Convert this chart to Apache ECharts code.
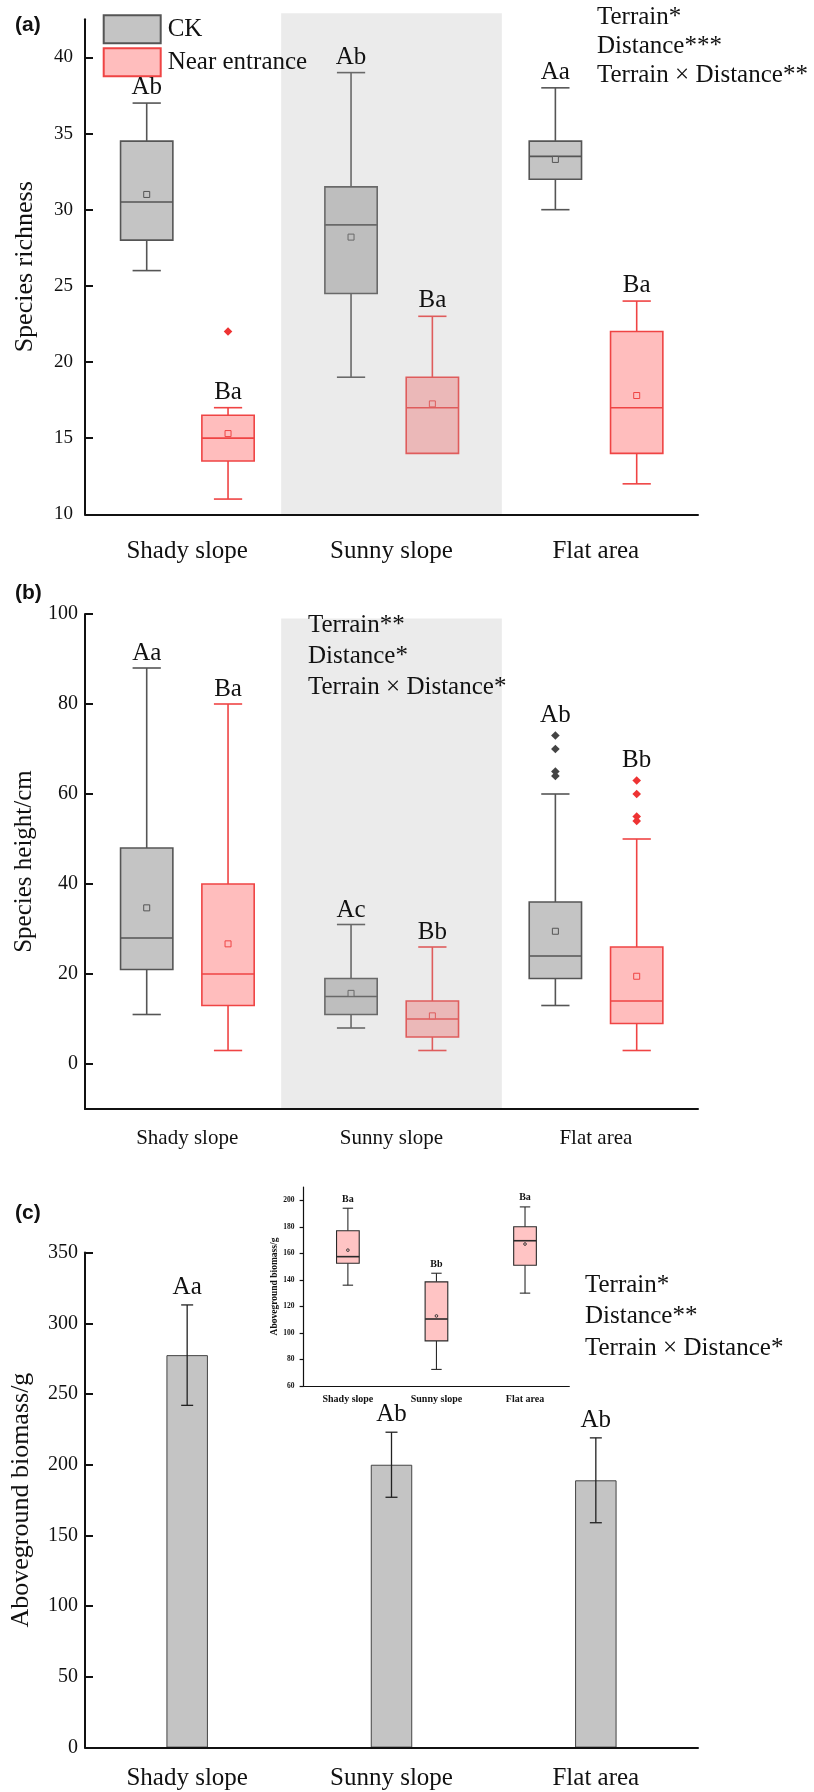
<!DOCTYPE html>
<html>
<head>
<meta charset="utf-8">
<script src="https://cdn.jsdelivr.net/npm/echarts@6.0.0/dist/echarts.min.js"></script>
<style>
  html, body { margin: 0; padding: 0; background: #fff; }
  #chart { width: 814px; height: 1792px; }
</style>
</head>
<body>
<div id="chart"></div>
<script>
// ---- data ----
const terrains = ['Shady slope', 'Sunny slope', 'Flat area'];

// Species richness, per terrain: [low, q1, median, q3, high, mean]
const richnessCK = [[26, 28, 30.5, 34.5, 37, 31], [19, 24.5, 29, 31.5, 39, 28.2], [30, 32, 33.5, 34.5, 38, 33.3]];
const richnessNE = [[11, 13.5, 15, 16.5, 17, 15.3], [14, 14, 17, 19, 23, 17.25], [12, 14, 17, 22, 24, 17.8]];
const richnessOutCK = [];
const richnessOutNE = [[0, 22]];
const richnessLettersCK = ['Ab', 'Ab', 'Aa'];
const richnessLettersNE = ['Ba', 'Ba', 'Ba'];
const richnessTicks = [10, 15, 20, 25, 30, 35, 40];
const richnessStats = ['Terrain*', 'Distance***', 'Terrain × Distance**'];

// Species height/cm, per terrain: [low, q1, median, q3, high, mean]
const heightCK = [[11, 21, 28, 48, 88, 34.7], [8, 11, 15, 19, 31, 15.7], [13, 19, 24, 36, 60, 29.5]];
const heightNE = [[3, 13, 20, 40, 80, 26.7], [3, 6, 10, 14, 26, 10.7], [3, 9, 14, 26, 50, 19.5]];
const heightOutCK = [[2, 73], [2, 70], [2, 65], [2, 64]];
const heightOutNE = [[2, 63], [2, 60], [2, 55], [2, 54]];
const heightLettersCK = ['Aa', 'Ac', 'Ab'];
const heightLettersNE = ['Ba', 'Bb', 'Bb'];
const heightTicks = [0, 20, 40, 60, 80, 100];
const heightStats = ['Terrain**', 'Distance*', 'Terrain × Distance*'];

// Aboveground biomass/g of CK plots: mean and standard deviation
const biomassMean = [277.5, 200, 189];
const biomassSD = [35.5, 23, 30];
const biomassLetters = ['Aa', 'Ab', 'Ab'];
const biomassTicks = [0, 50, 100, 150, 200, 250, 300, 350];
const biomassStats = ['Terrain*', 'Distance**', 'Terrain × Distance*'];

// Aboveground biomass/g near the entrance: [low, q1, median, q3, high, mean]
const biomassNE = [[136, 152.5, 157.5, 177, 194, 162.4], [72.5, 94, 110.5, 138.5, 145, 112.8], [130, 151, 169.5, 180, 195, 167]];
const biomassNELetters = ['Ba', 'Bb', 'Ba'];
const insetTicks = [60, 80, 100, 120, 140, 160, 180, 200];

// ---- styles ----
const SERIF = '"Liberation Serif", "Times New Roman", serif';
const SANS = '"Liberation Sans", Arial, sans-serif';
const INK = '#111111';
const ckStyle = { fill: '#c4c4c4', stroke: '#555555', lineWidth: 1.6, offset: -0.198, widthRatio: 0.256, capRatio: 0.54, mean: 'square', meanSize: 6 };
const neStyle = { fill: '#ffbdbd', stroke: '#ef4444', lineWidth: 1.6, offset: 0.2, widthRatio: 0.256, capRatio: 0.54, mean: 'square', meanSize: 6 };
const insetStyle = { fill: '#ffc4c4', stroke: '#2a2a2a', lineWidth: 1.1, offset: 0, widthRatio: 0.256, capRatio: 0.46, mean: 'circle', meanSize: 3.2, medianWidth: 1.6 };

const chart = echarts.init(document.getElementById('chart'), null, { renderer: 'canvas', width: 814, height: 1792 });

function boxRenderer(st) {
  return function (params, api) {
    const cat = api.value(0);
    const band = api.size([1, 0])[0];
    const cx = api.coord([cat, api.value(3)])[0] + st.offset * band;
    const w = band * st.widthRatio;
    const cap = w * st.capRatio / 2;
    const Y = d => api.coord([cat, api.value(d)])[1];
    const lo = Y(1), q1 = Y(2), md = Y(3), q3 = Y(4), hi = Y(5), mn = Y(6);
    const ls = { stroke: st.stroke, lineWidth: st.lineWidth };
    const kids = [];
    const seg = (x1, y1, x2, y2, s) => kids.push({ type: 'line', shape: { x1, y1, x2, y2 }, style: s || ls });
    if (q3 - hi > 0.5) { seg(cx, hi, cx, q3); seg(cx - cap, hi, cx + cap, hi); }
    if (lo - q1 > 0.5) { seg(cx, q1, cx, lo); seg(cx - cap, lo, cx + cap, lo); }
    kids.push({ type: 'rect', shape: { x: cx - w / 2, y: q3, width: w, height: q1 - q3 },
      style: { fill: st.fill, stroke: st.stroke, lineWidth: st.lineWidth } });
    seg(cx - w / 2, md, cx + w / 2, md, { stroke: st.stroke, lineWidth: st.medianWidth || st.lineWidth });
    const m = st.meanSize / 2;
    if (st.mean === 'square') {
      kids.push({ type: 'rect', shape: { x: cx - m, y: mn - m, width: 2 * m, height: 2 * m },
        style: { fill: st.fill, stroke: st.stroke, lineWidth: 1 } });
    } else {
      kids.push({ type: 'circle', shape: { cx: cx, cy: mn, r: m / 1.2 },
        style: { fill: st.fill, stroke: st.stroke, lineWidth: 0.9 } });
    }
    return { type: 'group', children: kids };
  };
}

function boxSeries(name, stats, st, axis) {
  return {
    type: 'custom', name: name, xAxisIndex: axis, yAxisIndex: axis, z: 2, silent: true,
    encode: { x: 0, y: [1, 2, 3, 4, 5, 6] },
    data: stats.map((s, i) => [i].concat(s)),
    renderItem: boxRenderer(st)
  };
}

function outlierSeries(name, pts, color, st, axis) {
  return {
    type: 'custom', name: name, xAxisIndex: axis, yAxisIndex: axis, z: 2, silent: true,
    encode: { x: 0, y: 1 },
    data: pts,
    renderItem: function (params, api) {
      const band = api.size([1, 0])[0];
      const p = api.coord([api.value(0), api.value(1)]);
      const x = p[0] + st.offset * band, y = p[1], r = 4.3;
      return { type: 'polygon', shape: { points: [[x, y - r], [x + r, y], [x, y + r], [x - r, y]] }, style: { fill: color } };
    }
  };
}

// letters sit above the whisker top, or above the highest outlier when asked to
function letterSeries(letters, stats, outliers, overOutliers, offset, axis, font, gap) {
  const anchors = stats.map((s, i) => {
    const outs = outliers.filter(o => o[0] === i).map(o => o[1]);
    if (overOutliers && outs.length) return [i, Math.max.apply(null, outs), 1];
    return [i, s[4], 0];
  });
  return {
    type: 'custom', xAxisIndex: axis, yAxisIndex: axis, z: 5, silent: true,
    encode: { x: 0, y: 1 },
    data: anchors,
    renderItem: function (params, api) {
      const band = api.size([1, 0])[0];
      const p = api.coord([api.value(0), api.value(1)]);
      const extra = api.value(2) ? 6 : 0;
      return {
        type: 'text', x: p[0] + offset * band, y: p[1] - gap - extra,
        style: Object.assign({ text: letters[params.dataIndex], align: 'center', verticalAlign: 'bottom', fill: INK }, font)
      };
    }
  };
}

function xAxisCfg(grid, fontSize, margin, opts) {
  opts = opts || {};
  return {
    type: 'category', gridIndex: grid, data: terrains, boundaryGap: true, z: 6,
    axisLine: { onZero: false, lineStyle: { color: INK, width: opts.lineWidth || 2 } },
    axisTick: { alignWithLabel: true, length: opts.tickLen || 8, lineStyle: { color: INK, width: opts.lineWidth || 2 } },
    axisLabel: { fontFamily: SERIF, fontSize: fontSize, color: INK, margin: margin, fontWeight: opts.bold ? 'bold' : 'normal', interval: 0 },
    splitLine: { show: false }
  };
}

function yAxisCfg(grid, min, max, ticks, name, o) {
  return {
    type: 'value', gridIndex: grid, min: min, max: max, z: 6,
    name: name, nameLocation: 'middle', nameGap: o.nameGap,
    nameTextStyle: { fontFamily: SERIF, fontSize: o.nameSize, color: INK, fontWeight: o.bold ? 'bold' : 'normal' },
    axisLine: { show: true, onZero: false, lineStyle: { color: INK, width: o.lineWidth || 2 } },
    axisTick: { show: true, inside: o.tickInside, length: o.tickLen || 8, customValues: ticks, lineStyle: { color: INK, width: o.lineWidth || 2 } },
    axisLabel: { customValues: ticks, fontFamily: SERIF, fontSize: o.labelSize, color: INK, margin: o.labelMargin, fontWeight: o.bold ? 'bold' : 'normal' },
    splitLine: { show: false }
  };
}

const option = {
  animation: false,
  backgroundColor: '#ffffff',
  grid: [
    { left: 85, top: 19.3, width: 613, height: 495 },
    { left: 85, top: 614, width: 613, height: 495 },
    { left: 85, top: 1252.6, width: 613, height: 495 },
    { left: 303.6, top: 1187, width: 265.7, height: 199 }
  ],
  legend: {
    left: 97.7, top: 9.3, orient: 'vertical', itemWidth: 57, itemHeight: 28, itemGap: 3,
    selectedMode: false,
    textStyle: { fontFamily: SERIF, fontSize: 25, color: INK, padding: [0, 0, 0, 2] },
    data: [
      { name: 'CK', icon: 'rect', itemStyle: { color: ckStyle.fill, borderColor: ckStyle.stroke, borderWidth: 2 } },
      { name: 'Near entrance', icon: 'rect', itemStyle: { color: neStyle.fill, borderColor: neStyle.stroke, borderWidth: 2 } }
    ]
  },
  xAxis: [
    xAxisCfg(0, 25, 25),
    xAxisCfg(1, 21, 19),
    xAxisCfg(2, 25, 18),
    xAxisCfg(3, 10, 8, { bold: true, lineWidth: 1.2, tickLen: 4 })
  ],
  yAxis: [
    yAxisCfg(0, 10, 42.5, richnessTicks, 'Species richness', { nameGap: 47, nameSize: 26, labelSize: 19, labelMargin: 12, tickInside: true }),
    yAxisCfg(1, -10, 100, heightTicks, 'Species height/cm', { nameGap: 46, nameSize: 25, labelSize: 20, labelMargin: 7, tickInside: true }),
    yAxisCfg(2, 0, 350, biomassTicks, 'Aboveground biomass/g', { nameGap: 51, nameSize: 26, labelSize: 20, labelMargin: 7, tickInside: true }),
    yAxisCfg(3, 60, 210, insetTicks, 'Aboveground biomass/g', { nameGap: 22, nameSize: 9.5, labelSize: 7.5, labelMargin: 9, tickInside: false, tickLen: 4, lineWidth: 1.2, bold: true })
  ],
  series: [
    // (a) species richness
    boxSeries('CK', richnessCK, ckStyle, 0),
    boxSeries('Near entrance', richnessNE, neStyle, 0),
    outlierSeries('CK', richnessOutCK, '#444444', ckStyle, 0),
    outlierSeries('Near entrance', richnessOutNE, '#ee3333', neStyle, 0),
    letterSeries(richnessLettersCK, richnessCK, richnessOutCK, false, ckStyle.offset, 0, { fontFamily: SERIF, fontSize: 25 }, 3),
    letterSeries(richnessLettersNE, richnessNE, richnessOutNE, false, neStyle.offset, 0, { fontFamily: SERIF, fontSize: 25 }, 3),
    // (b) species height
    boxSeries('CK', heightCK, ckStyle, 1),
    boxSeries('Near entrance', heightNE, neStyle, 1),
    outlierSeries('CK', heightOutCK, '#444444', ckStyle, 1),
    outlierSeries('Near entrance', heightOutNE, '#ee3333', neStyle, 1),
    letterSeries(heightLettersCK, heightCK, heightOutCK, true, ckStyle.offset, 1, { fontFamily: SERIF, fontSize: 25 }, 2),
    letterSeries(heightLettersNE, heightNE, heightOutNE, true, neStyle.offset, 1, { fontFamily: SERIF, fontSize: 25 }, 2),
    // (c) aboveground biomass of CK
    {
      type: 'bar', xAxisIndex: 2, yAxisIndex: 2, barWidth: '20.3%', silent: true, z: 2,
      itemStyle: { color: '#c4c4c4', borderColor: '#444444', borderWidth: 1 },
      data: biomassMean
    },
    {
      type: 'custom', xAxisIndex: 2, yAxisIndex: 2, z: 4, silent: true,
      encode: { x: 0, y: [1, 2] },
      data: biomassMean.map((m, i) => [i, m - biomassSD[i], m + biomassSD[i]]),
      renderItem: function (params, api) {
        const lo = api.coord([api.value(0), api.value(1)]);
        const hi = api.coord([api.value(0), api.value(2)]);
        const x = lo[0], c = 6, s = { stroke: '#222222', lineWidth: 1.3 };
        return { type: 'group', children: [
          { type: 'line', shape: { x1: x, y1: hi[1], x2: x, y2: lo[1] }, style: s },
          { type: 'line', shape: { x1: x - c, y1: hi[1], x2: x + c, y2: hi[1] }, style: s },
          { type: 'line', shape: { x1: x - c, y1: lo[1], x2: x + c, y2: lo[1] }, style: s }
        ] };
      }
    },
    letterSeries(biomassLetters, biomassMean.map((m, i) => [0, 0, 0, 0, m + biomassSD[i]]), [], false, 0, 2, { fontFamily: SERIF, fontSize: 25 }, 5),
    // inset: aboveground biomass near the entrance
    boxSeries('Near entrance inset', biomassNE, insetStyle, 3),
    letterSeries(biomassNELetters, biomassNE, [], false, 0, 3, { fontFamily: SERIF, fontSize: 10, fontWeight: 'bold' }, 4)
  ]
};

chart.setOption(option);

// shaded band behind the sunny-slope group, plus panel tags and test notes
function decorations() {
  const els = [];
  [{ axis: 0, top: 42.9, bottom: 10 }, { axis: 1, top: 99, bottom: -10 }].forEach(s => {
    const c = chart.convertToPixel({ xAxisIndex: s.axis }, 'Sunny slope');
    const n = chart.convertToPixel({ xAxisIndex: s.axis }, 'Flat area');
    const band = n - c;
    const top = chart.convertToPixel({ yAxisIndex: s.axis }, s.top);
    const bottom = chart.convertToPixel({ yAxisIndex: s.axis }, s.bottom);
    els.push({ type: 'rect', z: 3, silent: true,
      shape: { x: c - band * 0.54, y: top, width: band * 1.08, height: bottom - top },
      style: { fill: 'rgba(170,170,170,0.24)' } });
  });
  const tag = (t, y) => els.push({ type: 'text', z: 10, x: 15, y: y,
    style: { text: t, fontFamily: SANS, fontWeight: 'bold', fontSize: 21, fill: INK, align: 'left', verticalAlign: 'middle' } });
  tag('(a)', 25); tag('(b)', 593); tag('(c)', 1213);
  const notes = (lines, x, y0, step) => lines.forEach((t, i) => els.push({ type: 'text', z: 10, x: x, y: y0 + i * step,
    style: { text: t, fontFamily: SERIF, fontSize: 25, fill: INK, align: 'left', verticalAlign: 'middle' } }));
  notes(richnessStats, 597, 17, 29);
  notes(heightStats, 308, 625, 31);
  notes(biomassStats, 585, 1285, 31.6);
  chart.setOption({ graphic: els });
}
decorations();
</script>
</body>
</html>
